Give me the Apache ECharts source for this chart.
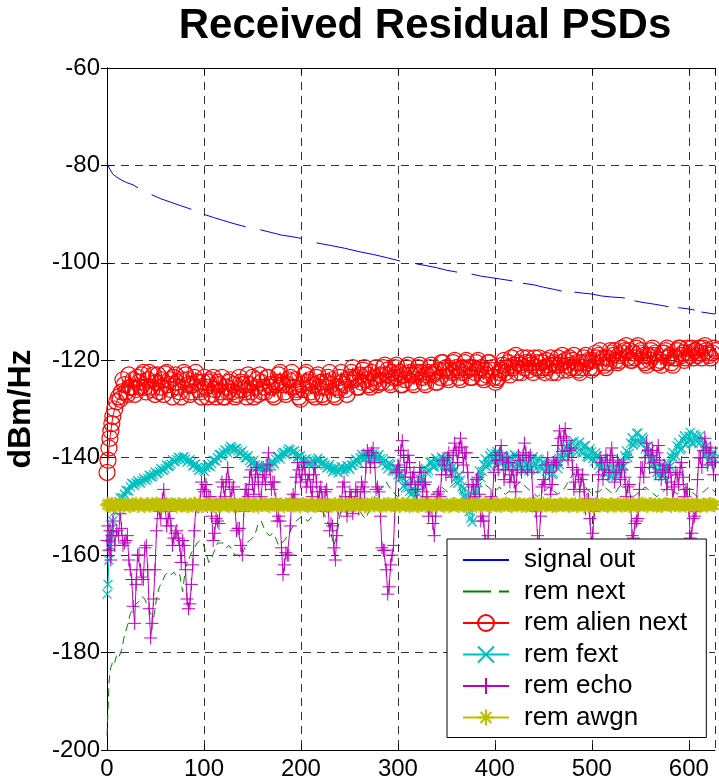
<!DOCTYPE html>
<html>
<head>
<meta charset="utf-8">
<script src="https://cdn.jsdelivr.net/npm/echarts@6.0.0/dist/echarts.min.js"></script>
<style>
  html, body { margin: 0; padding: 0; background: #fff; }
  #chart { width: 719px; height: 781px; }
</style>
</head>
<body>
<div id="chart"></div>
<script>
// Frequency bins: fine near DC, then every 3 bins; a second set sits halfway between
const sampleX = [0, 1, 2, 3, 4, 5, 6, 8, 10].concat(Array.from({ length: 206 }, (_, i) => 12 + 3 * i));
const midX = Array.from({ length: 205 }, (_, i) => 13.5 + 3 * i);

// Received signal PSD (dBm/Hz); null marks dropped bins
const signalX = [0, 3, 6, 10, 15, 20, 27, 32, 39, 46, 55, 65, 75, 87, 94, 101, 110, 120, 130, 143, 150, 158, 170, 180, 190, 201, 208,
  216, 230, 245, 260, 275, 290, 302, 310, 319, 330, 340, 350, 361, 368, 376, 385, 395, 405, 418, 423, 429, 440, 450, 460, 469, 475,
  482, 490, 500, 510, 520, 534, 539, 544, 555, 565, 579, 584, 589, 598, 606, 610, 613, 620, 627];
const signalOut = [-79.6, -80.8, -81.8, -82.4, -83, -83.5, -84, -84.6, null, -86, -86.8, -87.5, -88.2, -89, null, -90.1, -90.7, -91.3, -91.9, -92.6, null,
  -93.2, -93.8, -94.3, -94.6, -95, null, -95.9, -96.4, -97, -97.7, -98.3, -99, -99.6, null, -100.2, -100.6, -101, -101.5, -101.9, null,
  -102.3, -102.7, -103, -103.3, -103.7, null, -104.2, -104.5, -105, -105.4, -105.8, null, -106, -106.2, -106.4, -106.8, -107, -107.2, null,
  -107.8, -108.2, -108.5, -109, null, -109.2, -109.4, -109.7, null, -110.1, -110.3, -110.5];

const remNext = [
  -197, -192, -186.5, -184, -183, -182.5, -181.5, -182, -180.5, -181,
  -179.5, -176.5, -174.5, -172, -171, -170, -169.5, -168.5, -169, -170.5,
  -172, -173, -169, -166.5, -165.5, -164, -163.5, -164, -163.5, -164.5,
  -164, -167.5, -162.5, -161, -159.5, -158.5, -157.5, -157, -157.5, -159.5,
  -161.5, -160.5, -159, -157.5, -157.5, -157.5, -158.5, -158, -159, -160,
  -160, -160.5, -159, -157.5, -157, -156.5, -155.5, -153.5, -153, -154.5,
  -155.5, -156, -155.5, -156.5, -158, -157.5, -157, -156, -155, -154,
  -153, -152.5, -152, -152.5, -153, -152.5, -151, -150.5, -150, -151,
  -152, -153.5, -155.5, -158, -156, -152, -150, -149, -148.5, -149.5,
  -150, -150.5, -151, -152, -152.5, -151, -149.5, -148, -147, -146.5,
  -145.5, -145, -146, -146.5, -147.5, -148, -147.5, -147, -146.5, -147,
  -147.5, -147, -146.5, -147.5, -148, -148.5, -148, -147.5, -147, -146.5,
  -146, -146.5, -147, -146, -145.5, -145, -146, -147.5, -148, -147.5,
  -147, -146.5, -146, -145.5, -145, -145.5, -146, -146.5, -147, -146.5,
  -146, -147, -147.5, -147, -146.5, -146, -145.5, -145, -145.5, -146,
  -146.5, -147, -147.5, -148, -147.5, -147, -146.5, -146, -146.5, -147,
  -147.5, -147, -146.5, -145.5, -144.5, -143.5, -143, -143.5, -144.5, -145.5,
  -146.5, -147, -147.5, -147, -147, -146.5, -146, -146.5, -147, -147.5,
  -147, -146, -145.5, -146, -147, -147.5, -148, -147.5, -147, -146.5,
  -146, -146.5, -147, -147.5, -148, -147.5, -147, -146.5, -146, -146.5,
  -147, -147.5, -147, -146.5, -146, -146.5, -147, -147.5, -148, -147.5,
  -147, -146.5, -146, -146.5, -147];

const remAlienNext = [
  -143, -140.5, -138, -136, -134.5, -133, -131.5, -130, -128.5, -127.5,
  -126.5, -125, -127, -125.5, -124, -126, -124.5, -123, -125.5, -124,
  -125.5, -123, -124.5, -126.5, -124, -122.8, -125, -126, -123.5, -124.5,
  -126.5, -124, -123, -125, -126.5, -123.5, -124.5, -126.5, -124.5, -125.5,
  -124.5, -127, -126, -124.5, -126.5, -127.5, -125.5, -124.5, -126.5, -127.5,
  -126, -124.5, -126, -127.5, -125, -123.5, -125.5, -127, -124.5, -125.5,
  -123.5, -125, -127, -125, -123, -124.5, -126.5, -125, -123.5, -125.5,
  -126.5, -127.5, -125, -123, -124.5, -126.5, -125, -123.5, -125.5, -127,
  -125.5, -123.5, -125, -127, -125.5, -123.5, -124.5, -126, -124, -122.5,
  -124, -125.5, -123, -122, -124, -125, -122.5, -123.5, -125, -123,
  -121.5, -123, -124.5, -122.5, -121.5, -123.5, -125, -123, -121.5, -122.5,
  -124.5, -123, -121.5, -122.5, -124.5, -123, -121.5, -123, -124.5, -122,
  -120.5, -122, -123.5, -122, -120.5, -121.5, -123.5, -122.5, -120.5, -122,
  -123.5, -121.5, -120.5, -122, -123.5, -122, -120.5, -122, -123.5, -124,
  -122.5, -121, -122.5, -120.5, -119.5, -121, -122.5, -121, -119.5, -120.5,
  -122, -121, -119.5, -120.5, -122, -121.5, -120, -121, -122.5, -121,
  -119.5, -120.5, -122, -121, -119.5, -120, -121.5, -122, -120.5, -119.5,
  -120.5, -121.5, -120, -118.5, -119, -120.5, -121, -119.5, -118, -119,
  -120, -119, -117.5, -118, -119.5, -120, -118.5, -117.5, -118.5, -120,
  -120.5, -119, -118, -119, -120.5, -120, -118.5, -118, -119.5, -120.5,
  -119.5, -118, -117.5, -118.5, -119.5, -118.5, -117.5, -118, -119, -118.5,
  -117.5, -118, -119, -118.5, -118];
const remAlienNextMid = [
  -128, -124, -126.5, -123, -125.5, -127, -123.5, -125.5, -122.5, -126.5,
  -122.5, -126, -127, -123, -125.5, -127, -122.5, -124, -127.5, -123,
  -125.5, -127.5, -122.5, -124, -127, -125, -122.5, -126, -127.5, -123.5,
  -127.5, -124, -123.5, -127.5, -125, -123.5, -127.5, -126.5, -124, -125,
  -127, -123.5, -125, -126.5, -123, -126.5, -127.5, -124, -123, -126.5,
  -126.5, -123.5, -125.5, -127.5, -124.5, -122.5, -125, -127, -124, -122.5,
  -124, -126, -128, -126, -122.5, -124, -127, -127.5, -123, -124.5,
  -127.5, -124.5, -122.5, -124, -127.5, -126, -122.5, -125, -127, -123.5,
  -121.5, -123.5, -125.5, -124.5, -121.5, -123, -125.5, -124.5, -121.5, -124.5,
  -124.5, -121, -122, -125, -123.5, -121, -122.5, -125, -124, -121,
  -123, -125, -122.5, -121, -123.5, -125, -122.5, -121, -122.5, -124.5,
  -123.5, -120.5, -121.5, -124, -122.5, -120, -122, -124, -121.5, -120,
  -121.5, -123.5, -122.5, -120, -121.5, -124, -123, -120.5, -121.5, -124.5,
  -123.5, -122, -120, -121.5, -123, -121.5, -119, -120.5, -122.5, -121.5,
  -119.5, -120.5, -122.5, -121.5, -119.5, -120.5, -122.5, -121.5, -119.5, -120.5,
  -122.5, -121, -119, -120, -122, -121.5, -119, -120.5, -122.5, -121.5,
  -119, -120, -122, -121.5, -119.5, -118, -119.5, -121.5, -120.5, -118.5,
  -118, -120.5, -120, -118.5, -117, -118, -120, -119.5, -117, -118,
  -119, -121, -120, -117.5, -118.5, -120.5, -121, -118.5, -117.5, -119,
  -121, -119.5, -117.5, -119, -120, -117.5, -119, -119.5, -118, -117.5,
  -119.5, -117, -118.5, -119.5, -117.5];

const remFext = [
  -168, -166, -161, -158, -156, -154.5, -153, -151, -150, -149,
  -148.3, -147.5, -146.8, -146, -145.4, -145.2, -145, -144.7, -144.5, -144.2,
  -143.8, -143.5, -143.2, -142.8, -142.5, -142.2, -141.8, -141.3, -140.8, -140.4,
  -140.1, -140, -140.3, -140.6, -141, -141.5, -142, -142.4, -142.5, -142,
  -141.6, -141.2, -140.6, -140, -139.4, -139, -138.6, -138.2, -138, -138.2,
  -138.6, -139, -139.5, -140, -140.6, -141, -141.5, -141.8, -142, -142,
  -141.8, -141.3, -140.8, -140.3, -139.8, -139.3, -139, -138.6, -138.4, -138.7,
  -139.2, -139.8, -140.3, -140.6, -140.8, -141, -140.8, -140.5, -140.6, -141,
  -141.5, -141.9, -142.2, -142.5, -142.6, -142.4, -142.2, -142.3, -142, -141.5,
  -141, -140.5, -140, -139.7, -139.5, -139.8, -139.8, -139.6, -139.8, -140.2,
  -140.2, -141.6, -141.1, -142.6, -141.9, -143.5, -143.1, -145.8, -144.9, -146.9,
  -146.4, -148.3, -145.3, -145.2, -142.5, -143.1, -140.9, -141.8, -140.1, -141.3,
  -139.9, -141.5, -140.3, -142.4, -141.7, -144.1, -143.6, -146, -146.3, -150.3,
  -152.4, -149.2, -146.8, -142.7, -142.8, -140.2, -141.3, -139, -140.1, -138.7,
  -140.9, -139.6, -141.6, -140.2, -141.5, -139.4, -141.2, -140.2, -142.4, -141.2,
  -142.6, -140.4, -141.6, -140.2, -142.1, -140.8, -142.8, -141.6, -143.4, -141.5,
  -142.3, -139.6, -140.2, -137.8, -138.9, -136.9, -138.5, -137, -138.9, -137.6,
  -139.7, -138.2, -140.1, -139, -141.5, -140.5, -143.1, -141.8, -143.7, -142.2,
  -143.8, -141.6, -142.2, -139.6, -140, -137, -137.4, -135, -136.8, -135.8,
  -138.2, -137.6, -140.4, -140.2, -143, -142, -143.8, -142, -142.8, -139.8,
  -140.2, -137.6, -138.4, -136.2, -137.4, -135.6, -137, -135.2, -136.6, -135.4,
  -138, -137.7, -140.6, -139.7, -140.3];
const remFextMid = [
  -148.2, -148.2, -146.7, -146.8, -145.3, -145.7, -144.7, -145.2, -144.2, -144.6,
  -143.6, -143.9, -142.9, -143.2, -142.2, -142.6, -141.5, -141.7, -140.4, -140.8,
  -139.9, -140.4, -139.8, -140.9, -140.4, -141.7, -141.3, -142.6, -142.1, -142.8,
  -141.5, -141.8, -140.5, -140.7, -139.3, -139.6, -138.4, -139, -137.7, -138.4,
  -138.1, -139, -138.6, -140, -139.6, -141.1, -140.5, -142, -141.6, -142.5,
  -141.6, -142.1, -140.8, -141.3, -139.8, -140.3, -138.9, -139.4, -138.2, -138.9,
  -138.6, -139.8, -139.6, -140.8, -140.2, -141.4, -140.5, -141.2, -140.1, -141.3,
  -140.9, -142.1, -141.4, -142.9, -142, -143.1, -141.8, -142.9, -141.6, -142.4,
  -141.6, -140.3, -141.1, -139.3, -140.3, -139, -140.4, -139.2, -140.5, -139.3,
  -141.2, -140.6, -142.3, -141.4, -142.8, -142.6, -144.3, -144.1, -146.2, -145.3,
  -147.6, -146.8, -147.1, -144.3, -144.4, -142.2, -142.6, -140.8, -141.9, -140.4,
  -141.6, -140.2, -142.1, -140.9, -143.2, -142.5, -145.3, -144.6, -148.1, -147.9,
  -151.1, -153.2, -147.7, -145.1, -144.1, -141.4, -141.9, -139.6, -141, -139.1,
  -139.4, -141.3, -139.9, -142.1, -139.8, -141.4, -139.6, -141.9, -140.6, -142.7,
  -141.1, -142.5, -139.8, -142.3, -140.4, -142.4, -141.1, -143.2, -141.9, -143.2,
  -140.6, -141.4, -138.8, -139.5, -137.1, -138.6, -136.6, -138.9, -136.8, -139.1,
  -137.5, -139.9, -138.8, -140.8, -139.6, -142.3, -140.9, -143.5, -142.1, -143.9,
  -142.5, -143.3, -140.6, -141.7, -138.6, -139.1, -135.9, -136.8, -134.9, -137.2,
  -136.2, -139.2, -138.6, -141.4, -141, -143.7, -141.7, -143.5, -141.2, -141.8,
  -138.9, -139.6, -136.9, -138.1, -135.5, -136.8, -134.8, -137, -135.6, -137.1,
  -136.4, -139.4, -138.9, -141.3, -138.8];

const remEcho = [
  -157, -154, -159, -155, -161, -156, -153, -158, -155, -156,
  -154.5, -157.5, -156, -163, -170.5, -166, -160, -164.5, -158.5, -163,
  -177, -169, -155, -151, -148.5, -150, -152.5, -154, -156.5, -155,
  -158, -157, -163, -171, -166, -155, -150, -149, -146.5, -145.5,
  -148, -152, -155.5, -153, -148.5, -146, -144.5, -145, -146.5, -150,
  -154.5, -158, -151, -146.5, -144, -145.5, -143.5, -145, -148, -143.5,
  -141.5, -142.5, -145, -148.5, -152, -158.5, -162, -160, -154, -147.5,
  -144, -142.5, -143.5, -142, -144.5, -146, -143.5, -145, -147, -148.5,
  -147, -150, -153.5, -158.5, -156, -149, -146, -148, -149.5, -148,
  -149.5, -147, -148.5, -146, -142, -139.5, -139, -141, -146, -152,
  -159, -163, -166.5, -160, -150, -141.5, -138.5, -139.5, -142, -141,
  -144, -146.5, -145, -143, -145.5, -148, -150.5, -153.5, -152, -147,
  -143.5, -141.5, -140, -142.5, -139.5, -138.5, -138, -137.8, -139, -143,
  -148.5, -146, -144.5, -147.5, -152, -157, -156, -148, -143, -140.5,
  -139, -140.5, -142.5, -141, -143.5, -145, -142.5, -140.5, -139.5, -139,
  -140, -143, -149.5, -156, -152, -144.5, -141.5, -143, -145.5, -140.5,
  -137.5, -136, -135.7, -136.5, -138.5, -142, -145, -143.5, -144.5, -146.5,
  -148.5, -152.5, -155.5, -149.5, -143.5, -141, -142.5, -140.5, -139.5, -141,
  -143, -141.5, -142.5, -144, -146, -149, -156.5, -153, -146.5, -142,
  -140, -138.5, -139.5, -141, -139, -140.5, -142.5, -144, -143, -145,
  -146, -143.5, -142, -144, -146.5, -150.5, -155.5, -152, -144.5, -140,
  -138.5, -137.8, -139, -141, -140];
const remEchoMid = [
  -151.5, -158, -157, -161, -165, -174, -160, -163, -165, -158,
  -171, -174, -163, -150.5, -152.5, -146.5, -154, -151, -158, -155.5,
  -156.5, -161.5, -158, -169, -170, -162, -150.5, -150, -145, -147,
  -150, -148, -157, -152.5, -153.5, -145, -148, -142, -148.5, -146,
  -155, -154.5, -160, -146.5, -148, -142.5, -147.5, -142, -149.5, -144,
  -145.5, -139, -146.5, -145, -153, -153, -164, -159.5, -160, -148.5,
  -148.5, -141, -145, -141, -146, -143.5, -148, -142, -149, -146,
  -151, -146.5, -155, -154, -161, -150.5, -150, -145, -152, -147,
  -151.5, -146.5, -150.5, -145, -147, -138.5, -142, -138, -146.5, -147,
  -158.5, -159, -168, -162, -158, -143, -142.5, -136.5, -144, -139.5,
  -145.5, -143, -149, -142, -147, -145, -152, -150, -156, -147.5,
  -148, -140.5, -143.5, -139, -144, -137, -141, -136, -141.5, -139,
  -149, -145.5, -148, -144, -153, -153, -160.5, -150, -148.5, -139.5,
  -142.5, -137.5, -144.5, -140, -145, -142.5, -147, -139.5, -143, -137,
  -142.5, -139.5, -149, -151, -158, -146, -145.5, -140, -147.5, -141,
  -141.5, -134.5, -138.7, -134, -140.5, -138, -146.5, -142.5, -147, -143.5,
  -150.5, -148.5, -157.5, -151, -149, -140, -144.5, -139.5, -143, -138,
  -145, -140.5, -144.5, -141, -148, -145.5, -156, -153.5, -152.5, -142,
  -144, -137, -142, -138.5, -143, -137.5, -144.5, -141.5, -146.5, -142,
  -148.5, -143, -145.5, -141, -148, -146.5, -156.5, -152.5, -151, -140,
  -142, -136, -141.5, -138, -143.5];

const remAwgn = [
  -149.7, -149.4, -149.9, -149.6, -149.8, -149.5, -149.7, -150, -149.6, -149.8,
  -149.5, -149.8, -149.6, -149.9, -149.7, -149.4, -149.8, -149.6, -149.9, -149.5,
  -149.8, -149.6, -149.4, -149.7, -149.9, -149.6, -149.8, -149.5, -149.7, -150,
  -149.6, -149.8, -149.5, -149.9, -149.7, -149.4, -149.8, -149.6, -149.9, -149.7,
  -149.5, -149.7, -149.9, -149.6, -149.8, -149.5, -149.7, -149.9, -149.6, -149.4,
  -149.8, -149.6, -149.9, -149.7, -149.5, -149.8, -149.6, -150, -149.7, -149.5,
  -149.7, -149.9, -149.6, -149.4, -149.8, -149.6, -149.9, -149.7, -149.5, -149.8,
  -149.6, -149.8, -149.5, -149.7, -150, -149.6, -149.4, -149.8, -149.7, -149.9,
  -149.5, -149.7, -149.9, -149.6, -149.8, -149.5, -149.7, -149.9, -149.6, -149.8,
  -149.7, -149.5, -149.8, -149.6, -149.9, -149.7, -149.4, -149.8, -149.6, -149.9,
  -149.6, -149.8, -149.5, -149.7, -149.9, -149.6, -149.8, -149.5, -149.7, -150,
  -149.8, -149.6, -149.9, -149.7, -149.5, -149.8, -149.6, -149.9, -149.7, -149.4,
  -149.7, -149.9, -149.6, -149.8, -149.5, -149.7, -149.9, -149.6, -149.8, -149.5,
  -149.5, -149.7, -149.9, -149.6, -149.8, -149.4, -149.7, -149.9, -149.6, -149.8,
  -149.8, -149.6, -149.4, -149.7, -149.9, -149.6, -149.8, -149.5, -149.7, -149.9,
  -149.6, -149.8, -149.5, -149.9, -149.7, -149.4, -149.8, -149.6, -149.9, -149.7,
  -149.7, -149.5, -149.8, -149.6, -149.9, -149.7, -149.5, -149.8, -149.6, -150,
  -149.5, -149.7, -149.9, -149.6, -149.8, -149.5, -149.7, -149.9, -149.6, -149.8,
  -149.8, -149.6, -149.9, -149.7, -149.5, -149.8, -149.6, -149.9, -149.7, -149.4,
  -149.6, -149.8, -149.5, -149.7, -149.9, -149.6, -149.8, -149.5, -149.7, -149.9,
  -149.7, -149.5, -149.8, -149.6, -149.9, -149.7, -149.4, -149.8, -149.6, -149.9,
  -149.6, -149.8, -149.5, -149.7, -149.8];
const remAwgnMid = [
  -149.6, -149.9, -149.5, -149.8, -149.6, -149.7, -149.9, -149.5, -149.8, -149.6,
  -149.8, -149.5, -149.7, -149.6, -149.9, -149.7, -149.5, -149.8, -149.6, -149.7,
  -149.5, -149.8, -149.7, -149.9, -149.6, -149.8, -149.5, -149.7, -149.9, -149.6,
  -149.7, -149.5, -149.8, -149.6, -149.9, -149.7, -149.5, -149.8, -149.6, -149.8,
  -149.9, -149.6, -149.7, -149.5, -149.8, -149.6, -149.9, -149.7, -149.5, -149.7,
  -149.6, -149.8, -149.5, -149.7, -149.9, -149.6, -149.8, -149.5, -149.7, -149.6,
  -149.8, -149.6, -149.9, -149.5, -149.7, -149.8, -149.6, -149.9, -149.7, -149.5,
  -149.7, -149.9, -149.6, -149.8, -149.5, -149.7, -149.6, -149.9, -149.5, -149.8,
  -149.6, -149.8, -149.7, -149.5, -149.9, -149.6, -149.8, -149.7, -149.5, -149.7,
  -149.9, -149.6, -149.5, -149.8, -149.7, -149.6, -149.9, -149.5, -149.8, -149.6,
  -149.7, -149.5, -149.8, -149.6, -149.7, -149.9, -149.5, -149.8, -149.6, -149.8,
  -149.5, -149.8, -149.6, -149.9, -149.7, -149.5, -149.8, -149.6, -149.7, -149.9,
  -149.8, -149.6, -149.7, -149.5, -149.9, -149.6, -149.7, -149.8, -149.5, -149.7,
  -149.6, -149.9, -149.7, -149.5, -149.7, -149.8, -149.6, -149.5, -149.9, -149.6,
  -149.7, -149.5, -149.8, -149.6, -149.7, -149.9, -149.7, -149.6, -149.5, -149.8,
  -149.9, -149.6, -149.7, -149.5, -149.8, -149.6, -149.7, -149.9, -149.5, -149.6,
  -149.6, -149.8, -149.6, -149.9, -149.5, -149.8, -149.6, -149.7, -149.8, -149.5,
  -149.8, -149.5, -149.7, -149.6, -149.7, -149.9, -149.5, -149.7, -149.8, -149.6,
  -149.7, -149.9, -149.5, -149.8, -149.6, -149.7, -149.9, -149.6, -149.5, -149.7,
  -149.5, -149.7, -149.8, -149.6, -149.7, -149.5, -149.9, -149.7, -149.6, -149.8,
  -149.7, -149.6, -149.8, -149.5, -149.7];

const legendNames = ['signal out', 'rem next', 'rem alien next', 'rem fext', 'rem echo', 'rem awgn'];
const xTicks = { min: 0, max: 627, step: 100 };
const yTicks = { min: -200, max: -60, step: 20 };

const FONT = '"Liberation Sans", Arial, Helvetica, sans-serif';
const SYM_X = 'path://M0,0L10,10M10,0L0,10';
const SYM_PLUS = 'path://M5,0L5,10M0,5L10,5';
const SYM_STAR = 'path://M5,0L5,10M0,5L10,5M1.6,1.6L8.4,8.4M8.4,1.6L1.6,8.4';

const toPairs = (xs, ys) => xs.map((x, i) => [x, ys[i] == null ? '-' : ys[i]]);
// Merge the main and halfway bins into one x-ordered trace
const mergeBins = (ys, midYs) => toPairs(sampleX, ys).concat(toPairs(midX, midYs)).sort((a, b) => a[0] - b[0]);

function lineSeries(name, data, color, dash) {
  return {
    name, type: 'line', data, symbol: 'none', connectNulls: false,
    itemStyle: { color: 'none', borderWidth: 0 },
    lineStyle: { color, width: 1, type: dash || 'solid' },
    emphasis: { disabled: true }, silent: true
  };
}
function markerSeries(name, data, color, symbol, size, stroke) {
  return {
    name, type: 'line', data, symbol, symbolSize: size,
    itemStyle: { color: 'none', borderColor: color, borderWidth: stroke },
    lineStyle: { color, width: 1 },
    emphasis: { disabled: true }, silent: true
  };
}

const chart = echarts.init(document.getElementById('chart'), null, { renderer: 'canvas' });

const gridLine = { show: true, lineStyle: { color: '#333', width: 1, type: [8, 6] } };
const axisLine = { show: true, lineStyle: { color: '#000', width: 1 } };
const inTick = { show: true, inside: true, length: 6, lineStyle: { color: '#000' } };

chart.setOption({
  animation: false,
  backgroundColor: '#fff',
  grid: { left: 107, right: 4, top: 68, bottom: 31, containLabel: false, outerBoundsMode: 'none' },
  graphic: [{
    type: 'text', x: 425, y: 26,
    style: { text: 'Received Residual PSDs', font: 'bold 42px ' + FONT, fill: '#000', textAlign: 'center', textVerticalAlign: 'middle' }
  }],
  xAxis: [{
    type: 'value', min: xTicks.min, max: xTicks.max, interval: xTicks.step,
    axisLine, axisTick: inTick, splitLine: gridLine,
    axisLabel: { fontSize: 24, fontFamily: FONT, color: '#000', margin: 7, showMaxLabel: false }
  }, {
    type: 'value', position: 'top', min: xTicks.min, max: xTicks.max, interval: xTicks.step,
    axisLine, axisTick: inTick, splitLine: { show: false }, axisLabel: { show: false }
  }],
  yAxis: [{
    type: 'value', min: yTicks.min, max: yTicks.max, interval: yTicks.step,
    axisLine, axisTick: inTick, splitLine: gridLine,
    axisLabel: { fontSize: 24, fontFamily: FONT, color: '#000', margin: 7 },
    name: 'dBm/Hz', nameLocation: 'middle', nameGap: 70,
    nameTextStyle: { fontSize: 32, fontWeight: 'bold', fontFamily: FONT, color: '#000' }
  }, {
    type: 'value', position: 'right', min: yTicks.min, max: yTicks.max, interval: yTicks.step,
    axisLine, axisTick: inTick, splitLine: { show: false }, axisLabel: { show: false }
  }],
  legend: {
    orient: 'vertical', left: 447, top: 539,
    padding: [8, 19, 7, 15],
    backgroundColor: '#fff', borderColor: '#000', borderWidth: 1,
    itemWidth: 46, itemHeight: 20, itemGap: 5.5, selectedMode: false,
    textStyle: { fontSize: 26, fontFamily: FONT, color: '#000', padding: [0, 0, 0, 10] },
    data: legendNames.map(n => n === 'rem next' ? { name: n, lineStyle: { type: [28, 8] } } : { name: n })
  },
  series: [
    lineSeries(legendNames[0], toPairs(signalX, signalOut), '#0000ff'),
    lineSeries(legendNames[1], toPairs(sampleX, remNext), '#008000', [8, 5]),
    markerSeries(legendNames[2], mergeBins(remAlienNext, remAlienNextMid), '#ff0000', 'circle', 16, 1.2),
    markerSeries(legendNames[3], mergeBins(remFext, remFextMid), '#00bfbf', SYM_X, 9, 1.2),
    markerSeries(legendNames[4], mergeBins(remEcho, remEchoMid), '#bf00bf', SYM_PLUS, 13, 1),
    markerSeries(legendNames[5], mergeBins(remAwgn, remAwgnMid), '#bfbf00', SYM_STAR, 14, 1.4)
  ]
});
</script>
</body>
</html>
